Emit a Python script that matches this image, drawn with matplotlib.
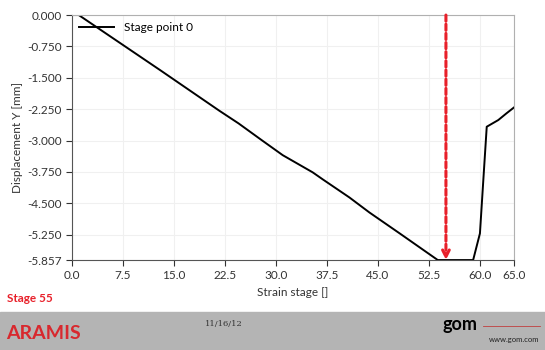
import matplotlib.pyplot as plt
import numpy as np

# Stage point 0 displacement vs strain stage
stage = [0.0, 1.0, 13.0, 21.7, 24.5, 27.9, 31.0, 35.4, 36.9, 40.8, 43.75, 48.2, 53.8,
         59.0, 60.0, 60.5, 61.0, 62.7, 63.9, 65.0]
disp_y = [0.0, 0.0, -1.32, -2.29, -2.59, -2.99, -3.35, -3.76, -3.93, -4.36, -4.72, -5.22,
          -5.857, -5.857, -5.22, -3.94, -2.67, -2.51, -2.35, -2.21]

x_ticks = [0.0, 7.5, 15.0, 22.5, 30.0, 37.5, 45.0, 52.5, 60.0, 65.0]
y_ticks = [0.0, -0.75, -1.5, -2.25, -3.0, -3.75, -4.5, -5.25, -5.857]
current_stage = 55

plt.rcParams['font.family'] = ['Lato', 'DejaVu Sans']

fig = plt.figure(figsize=(5.45, 3.5), dpi=100)
ax = fig.add_axes([0.132, 0.257, 0.811, 0.70])

ax.plot(stage, disp_y, color='black', lw=1.4, label='Stage point 0')

# current stage marker
ax.annotate('', xy=(current_stage, -5.857), xytext=(current_stage, 0.0),
            arrowprops=dict(arrowstyle='->', color='#e8202a', lw=2.2,
                            linestyle=(0, (2, 1)), shrinkA=0, shrinkB=0,
                            mutation_scale=12))

ax.set_xlim(0, 65)
ax.set_ylim(-5.857, 0)
ax.set_xticks(x_ticks)
ax.set_xticklabels([f'{v:.1f}' for v in x_ticks])
ax.set_yticks(y_ticks)
ax.set_yticklabels([f'{v:.3f}' for v in y_ticks])
ax.tick_params(labelsize=8.5, colors='#333333', length=4, width=0.8)
ax.grid(True, color='#f0f0f0', lw=0.8)
for s in ['top', 'right']:
    ax.spines[s].set_color('#b0b0b0')
for s in ['left', 'bottom']:
    ax.spines[s].set_color('#555555')

ax.set_xlabel('Strain stage []', fontsize=8.5, color='#333333', labelpad=4)
ax.set_ylabel('Displacement Y [mm]', fontsize=8.5, color='#333333', labelpad=3)
ax.legend(loc='upper left', frameon=False, fontsize=8.5, handlelength=3,
          borderaxespad=0.2, bbox_to_anchor=(0.0, 1.0))

fig.text(0.013, 0.148, f'Stage {current_stage}', color='#e8202a', fontsize=8.5,
         fontweight='bold', va='center')

# footer band
fig.patches.append(plt.Rectangle((0, 0), 1, 0.11, transform=fig.transFigure,
                                 color='#b4b4b4', zorder=0))
fig.text(0.011, 0.048, 'ARAMIS', color='#d8282e', fontsize=14, fontweight='bold',
         va='center')
fig.text(0.376, 0.075, '11/16/12', color='#333333', fontsize=6, va='center',
         family='DejaVu Serif')
fig.text(0.812, 0.073, 'gom', color='black', fontsize=13, fontweight='bold',
         va='center')
fig.lines.append(plt.Line2D([0.886, 0.99], [0.068, 0.068], transform=fig.transFigure,
                            color='#c04040', lw=0.6))
fig.text(0.99, 0.03, 'www.gom.com', color='#222222', fontsize=5.5, va='center',
         ha='right')

fig.savefig('out.png', dpi=100)
